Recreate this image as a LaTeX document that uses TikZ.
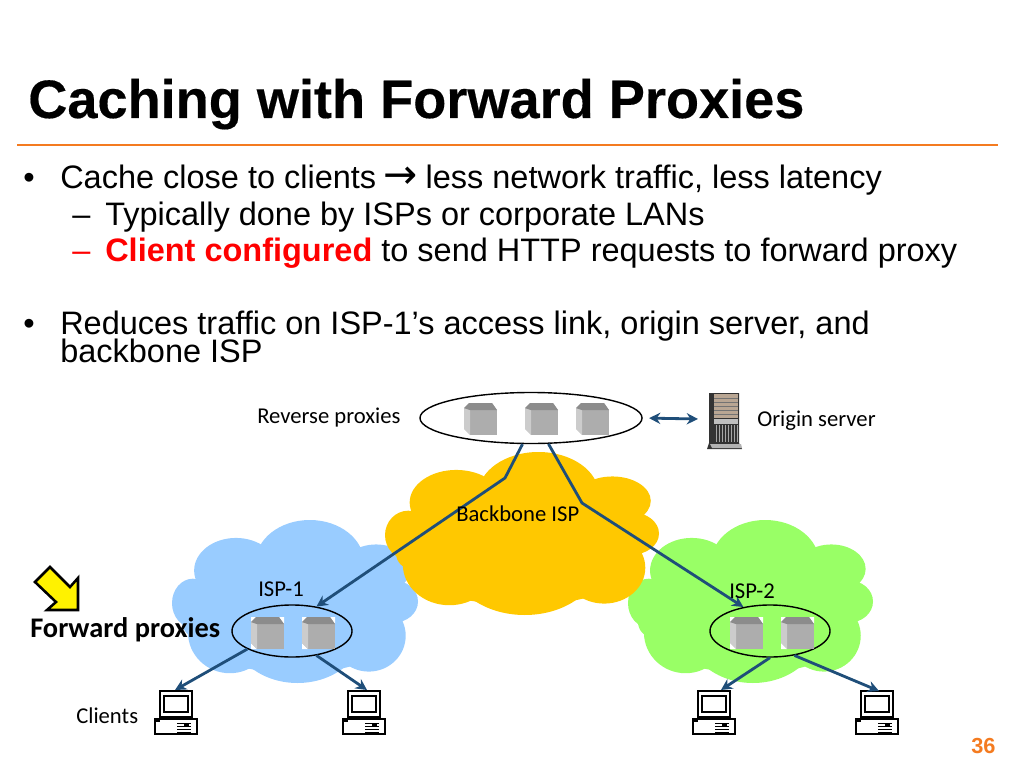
\documentclass[tikz,border=0pt]{standalone}
\usepackage{fontspec}
\setmainfont{Liberation Sans}
\newfontfamily\calibri{Carlito}
\newfontfamily\arrowfont{DejaVu Sans}
\newfontfamily\titlefont[FakeBold=0.3]{Liberation Sans Bold}
\usetikzlibrary{arrows.meta,positioning,shapes.geometric}
\definecolor{rulecol}{HTML}{F47B20}
\definecolor{linkcol}{HTML}{1F4E79}
\definecolor{cloudblue}{HTML}{99CCFF}
\definecolor{cloudgreen}{HTML}{99FF66}
\definecolor{cloudyellow}{HTML}{FFC800}
\tikzset{
  body/.style={anchor=base west,inner sep=0pt,font=\fontsize{23.1}{28}\selectfont},
  small/.style={anchor=base west,inner sep=0pt,font=\calibri\fontsize{16.1}{19}\selectfont},
  group/.style={draw=black,line width=1pt,ellipse,inner sep=0pt},
  link/.style={draw=linkcol,line width=2pt,-{Stealth[length=8pt,width=8pt]}},
  pics/cube/.style={code={
    \fill[black!32] (0,0) rectangle (33,32);
    \fill[white] (0,0) -- (5,0) -- (0,5) -- cycle;
    \fill[white] (28,0) -- (33,0) -- (33,7) -- cycle;
    \fill[white] (0,26) -- (0,32) -- (6,32) -- cycle;
    \fill[black!20] (0,5) -- (6,7) -- (6,32) -- (0,26) -- cycle;
    \fill[black!45] (5,0) -- (28,0) -- (33,7) -- (6,7) -- (0,5) -- cycle;
  }},
  pics/desktop/.style={code={
    \draw[black,line width=1.3pt,fill=white] (5,0) rectangle (37,26);
    \draw[black,line width=1.3pt,fill=white] (9,5) rectangle (33,21);
    \draw[black,line width=1.3pt,fill=white] (0,28) rectangle (42,43);
    \draw[black,line width=.5pt] (22,32) -- (36,32) (22,35) -- (36,35) (22,38) -- (36,38) (22,41) -- (36,41);
    \fill[black] (1,29) rectangle (5,31);
    \fill[black] (29,33) rectangle (34,36);
  }},
  pics/blob/.style={code={
    \fill[#1] (.56,.26) ellipse [x radius=.22,y radius=.26];
    \fill[#1] (.26,.31) ellipse [x radius=.17,y radius=.20];
    \fill[#1] (.085,.51) ellipse [x radius=.085,y radius=.15];
    \fill[#1] (.83,.30) ellipse [x radius=.14,y radius=.15];
    \fill[#1] (.90,.50) ellipse [x radius=.10,y radius=.13];
    \fill[#1] (.80,.71) ellipse [x radius=.15,y radius=.22];
    \fill[#1] (.51,.67) ellipse [x radius=.27,y radius=.33];
    \fill[#1] (.235,.69) ellipse [x radius=.17,y radius=.25];
    \fill[#1] (.50,.50) ellipse [x radius=.42,y radius=.36];
    \fill[#1] (.50,.70) ellipse [x radius=.40,y radius=.24];
    \fill[#1] (.10,.62) ellipse [x radius=.06,y radius=.10];
  }}
}
\begin{document}
\begin{tikzpicture}[x=0.025cm,y=-0.025cm]
  \useasboundingbox (0,0) rectangle (1024,768);
  % Title
  \node[anchor=base west,inner sep=0pt,font=\titlefont\fontsize{38.5}{44}\selectfont] (title) at (28,118) {Caching with Forward Proxies};
  \coordinate (ruleL) at (17,145);
  \coordinate (ruleR) at (998,145);
  \draw[rulecol,line width=2pt] (ruleL) -- (ruleR);

  % Text
  \node[body] (b1) at (23,188) {•};
  \node[body] (t1) at (60,188) {Cache close to clients {\arrowfont\fontsize{29}{29}\selectfont\kern-1pt →\kern-1pt} less network traffic, less latency};
  \node[body] (d2) at (72,225) {–};
  \node[body] (t2) at (105,225) {Typically done by ISPs or corporate LANs};
  \node[body,text=red] (d3) at (72,261) {–};
  \node[body] (t3) at (105,261) {\textcolor{red}{\bfseries Client configured} to send HTTP requests to forward proxy};
  \node[body] (b4) at (23,334) {•};
  \node[body] (t4) at (60,334) {Reduces traffic on ISP-1’s access link, origin server, and};
  \node[body] (t5) at (60,362) {backbone ISP};

  % Clouds
  \begin{scope}[shift={(172,520)},xscale=246,yscale=163]
    \pic[transform shape] {blob=cloudblue};
  \end{scope}
  \begin{scope}[shift={(628,520)},xscale=245,yscale=163]
    \pic[transform shape] {blob=cloudgreen};
  \end{scope}
  \begin{scope}[shift={(385,452)},xscale=274,yscale=163]
    \pic[transform shape] {blob=cloudyellow};
  \end{scope}

  % Proxy groups
  \node[group,fill=white,minimum width=5.55cm,minimum height=1.275cm] (reverse) at (531,418) {};
  \node[group,minimum width=3cm,minimum height=1.3cm] (fwdA) at (292,631) {};
  \node[group,minimum width=3cm,minimum height=1.3cm] (fwdB) at (770,631) {};
  \pic at (464,403) {cube};
  \pic at (525,403) {cube};
  \pic at (576,403) {cube};
  \pic at (251,617) {cube};
  \pic at (302,617) {cube};
  \pic at (730,617) {cube};
  \pic at (781,617) {cube};

  % Clients
  \pic at (155,691) {desktop};
  \pic at (343,691) {desktop};
  \pic at (693,691) {desktop};
  \pic at (856,691) {desktop};
  \coordinate (pcA) at (175,690);
  \coordinate (pcB) at (367,690);
  \coordinate (pcC) at (721,690);
  \coordinate (pcD) at (879,691);

  % Origin server
  \fill[black!80] (709,393) -- (739,393) -- (739,443) -- (742,449) -- (707,449) -- (709,443) -- cycle;
  \fill[black!40!brown!50] (714,394) rectangle (738,418);
  \fill[black!25] (714,419) rectangle (738,424);
  \foreach \slat in {716,719,...,737} {\draw[black!35,line width=.7pt] (\slat,425) -- (\slat,442);}
  \foreach \slat in {398,402,...,416} {\draw[black!55,line width=.4pt] (714,\slat) -- (738,\slat);}
  \fill[black!30] (710,444) -- (741,444) -- (742,448) -- (712,448) -- cycle;
  \coordinate (originL) at (698,419);

  % Links
  \coordinate (bendL) at (505,478);
  \coordinate (bendR) at (582,503);
  \draw[link] (reverse.252) -- (bendL) -- (fwdA.45);
  \draw[link] (reverse.304) -- (bendR) -- (fwdB.138);
  \draw[link] (fwdA.202) -- (pcA);
  \draw[link] (fwdA.315) -- (pcB);
  \draw[link] (fwdB.south) -- (pcC);
  \draw[link] (fwdB.315) -- (pcD);
  \draw[link,{Stealth[length=8pt,width=8pt]}-{Stealth[length=8pt,width=8pt]},shorten <=4.5pt] (reverse.east) -- (originL);

  % Labels
  \node[small] (revlab) at (257,423) {Reverse proxies};
  \node[small] (origlab) at (757,426) {Origin server};
  \node[small] (bblab) at (456,521) {Backbone ISP};
  \node[small] (isp1) at (258,596) {ISP-1};
  \node[small] (isp2) at (729,598) {ISP-2};
  \node[small] (clients) at (76,723) {Clients};
  \node[small,font=\calibri\bfseries\fontsize{20.2}{23}\selectfont] (fwdlab) at (30,637) {Forward proxies};
  \draw[black,line width=1.8pt,fill=yellow,line join=miter] (50,567) -- (70,587) -- (78,578) -- (78,610) -- (47,610) -- (56,602) -- (35,582) -- cycle;

  % Page number
  \node[anchor=base west,inner sep=0pt,text=rulecol,font=\bfseries\fontsize{15.5}{17}\selectfont] (page) at (971,753) {36};
\end{tikzpicture}
\end{document}
